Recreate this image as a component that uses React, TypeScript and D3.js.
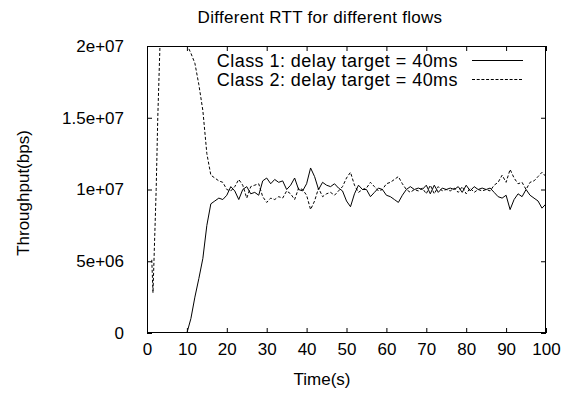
import React, { useEffect, useRef } from 'react';
import * as d3 from 'd3';

// throughput in Mbit/s (axis labels show bps)
const xTicks = [0, 10, 20, 30, 40, 50, 60, 70, 80, 90, 100];
const yTicks = [0, 5, 10, 15, 20];
const yTickLabels = ['0', '5e+06', '1e+07', '1.5e+07', '2e+07'];

// class 1: one sample per second, t = 0..100
const class1Values = [
  0, 0, 0, 0, 0, 0, 0, 0, 0, 0,
  0, 1.0, 2.5, 3.8, 5.2, 7.5, 9.0, 9.2, 9.4, 9.3,
  9.6, 10.2, 9.9, 9.3, 10.0, 10.2, 9.7, 9.8, 9.6, 10.6,
  10.8, 10.4, 10.7, 10.5, 10.6, 10.0, 10.3, 10.8, 10.0, 9.9,
  10.4, 11.5, 10.9, 10.0, 10.5, 10.3, 10.2, 10.4, 10.1, 9.9,
  9.2, 8.8, 9.7, 10.3, 10.0, 10.0, 9.5, 9.8, 10.1, 10.0,
  9.6, 9.5, 9.3, 9.1, 9.6, 10.0, 10.2, 10.0, 10.1, 10.0,
  10.3, 9.7, 10.3, 9.8, 10.1, 10.0, 10.1, 10.0, 10.2, 9.8,
  10.3, 9.9, 10.2, 10.0, 10.1, 10.0, 10.1, 9.8, 9.5, 9.4,
  9.6, 8.6, 9.3, 9.7, 9.5, 10.0, 9.6, 9.4, 9.2, 8.7,
  9.0,
];

// class 2: start-up burst, then one sample per second from t = 4
const class2StartTimes = [1.2, 1.5, 2.3, 2.7, 3.3];
const class2StartValues = [5.1, 2.8, 10.0, 15.0, 20.5];
const class2Values = [
  24, 26, 27, 27, 26, 24,
  20.1, 19.5, 18.8, 17.3, 15.5, 12.5, 11.0, 10.8, 10.6, 10.5,
  10.0, 9.9, 10.2, 10.7, 10.3, 9.4, 10.2, 10.3, 10.4, 9.5,
  9.1, 9.4, 9.3, 9.5, 9.4, 9.9, 9.7, 9.3, 10.1, 10.0,
  9.6, 8.6, 9.2, 10.1, 9.5, 9.7, 9.8, 9.6, 9.9, 10.2,
  10.8, 11.2, 10.3, 9.8, 10.0, 10.1, 10.5, 10.2, 9.9, 10.0,
  10.4, 10.5, 10.7, 10.9, 10.4, 10.0, 9.8, 10.0, 9.9, 10.1,
  9.7, 10.3, 9.7, 10.2, 9.9, 10.0, 9.9, 10.1, 9.8, 10.2,
  9.7, 10.1, 9.8, 10.0, 9.9, 10.0, 9.9, 10.3, 10.5, 11.0,
  10.5, 11.4, 10.8, 10.4, 10.5, 10.0, 10.5, 10.6, 10.9, 11.2,
  10.9,
];

const legendLabels = ['Class 1: delay target = 40ms', 'Class 2: delay target = 40ms'];

const FONT = "'Liberation Sans', Arial, Helvetica, sans-serif";

function App() {
  const svgRef = useRef<SVGSVGElement>(null);

  useEffect(() => {
    const width = 568;
    const height = 397;
    const margin = { top: 46, right: 22, bottom: 64, left: 147 };
    const iw = width - margin.left - margin.right;
    const ih = height - margin.top - margin.bottom;

    const svg = d3.select(svgRef.current);
    svg.selectAll('*').remove();

    const x = d3.scaleLinear().domain([0, 100]).range([0, iw]);
    const y = d3.scaleLinear().domain([0, 20]).range([ih, 0]);

    svg.append('defs').append('clipPath').attr('id', 'plotclip')
      .append('rect').attr('width', iw).attr('height', ih);

    const g = svg.append('g').attr('transform', `translate(${margin.left},${margin.top})`);

    const s1 = class1Values.map((v, i) => [i, v] as [number, number]);
    const s2 = class2StartTimes.map((t, i) => [t, class2StartValues[i]] as [number, number])
      .concat(class2Values.map((v, i) => [4 + i, v] as [number, number]));

    const line = d3.line<[number, number]>().x(d => x(d[0])).y(d => y(d[1]));

    const plot = g.append('g').attr('clip-path', 'url(#plotclip)');
    plot.append('path').datum(s1).attr('d', line).attr('fill', 'none')
      .attr('stroke', '#000').attr('stroke-width', 1);
    plot.append('path').datum(s2).attr('d', line).attr('fill', 'none')
      .attr('stroke', '#000').attr('stroke-width', 1).attr('stroke-dasharray', '3,2');

    // axes, gnuplot style: ticks inward on all four sides
    const bottom = g.append('g').attr('transform', `translate(0,${ih})`)
      .call(d3.axisBottom(x).tickValues(xTicks).tickSizeInner(-5).tickSizeOuter(0).tickPadding(10));
    const left = g.append('g')
      .call(d3.axisLeft(y).tickValues(yTicks).tickFormat((d, i) => yTickLabels[i])
        .tickSizeInner(-5).tickSizeOuter(0).tickPadding(23));
    g.append('g')
      .call(d3.axisTop(x).tickValues(xTicks).tickFormat(() => '').tickSizeInner(-5).tickSizeOuter(0));
    g.append('g').attr('transform', `translate(${iw},0)`)
      .call(d3.axisRight(y).tickValues(yTicks).tickFormat(() => '').tickSizeInner(-5).tickSizeOuter(0));

    g.selectAll('.domain').remove();
    g.selectAll('.tick line').attr('stroke', '#000');
    [bottom, left].forEach(a => a.selectAll('text')
      .attr('font-family', FONT).attr('font-size', 17).attr('fill', '#000'));

    g.append('rect').attr('x', 0.5).attr('y', 0.5).attr('width', iw - 1).attr('height', ih - 1)
      .attr('fill', 'none').attr('stroke', '#000').attr('stroke-width', 1);

    // legend
    const legend = svg.append('g').attr('font-family', FONT).attr('font-size', 18)
      .attr('letter-spacing', 0.45);
    legendLabels.forEach((lab, i) => {
      const ly = 60 + i * 19;
      legend.append('text').attr('x', 458).attr('y', ly + 6.5).attr('text-anchor', 'end').text(lab);
      legend.append('line').attr('x1', 472).attr('x2', 523).attr('y1', ly + 0.5).attr('y2', ly + 0.5)
        .attr('stroke', '#000').attr('stroke-width', 1)
        .attr('stroke-dasharray', i === 1 ? '3,1.7' : null);
    });

    // titles
    svg.append('text').attr('x', 320).attr('y', 23).attr('text-anchor', 'middle')
      .attr('font-family', FONT).attr('font-size', 17).attr('letter-spacing', 0.3)
      .text('Different RTT for different flows');
    svg.append('text').attr('x', 322).attr('y', 385).attr('text-anchor', 'middle')
      .attr('font-family', FONT).attr('font-size', 17).text('Time(s)');
    svg.append('text').attr('transform', 'translate(29,193) rotate(-90)').attr('text-anchor', 'middle')
      .attr('font-family', FONT).attr('font-size', 17).text('Throughput(bps)');
  }, []);

  return (
    <div style={{ position: 'absolute', left: 0, top: 0 }}>
      <svg ref={svgRef} width={568} height={397} style={{ display: 'block', background: '#fff' }} />
    </div>
  );
}

export default App;
